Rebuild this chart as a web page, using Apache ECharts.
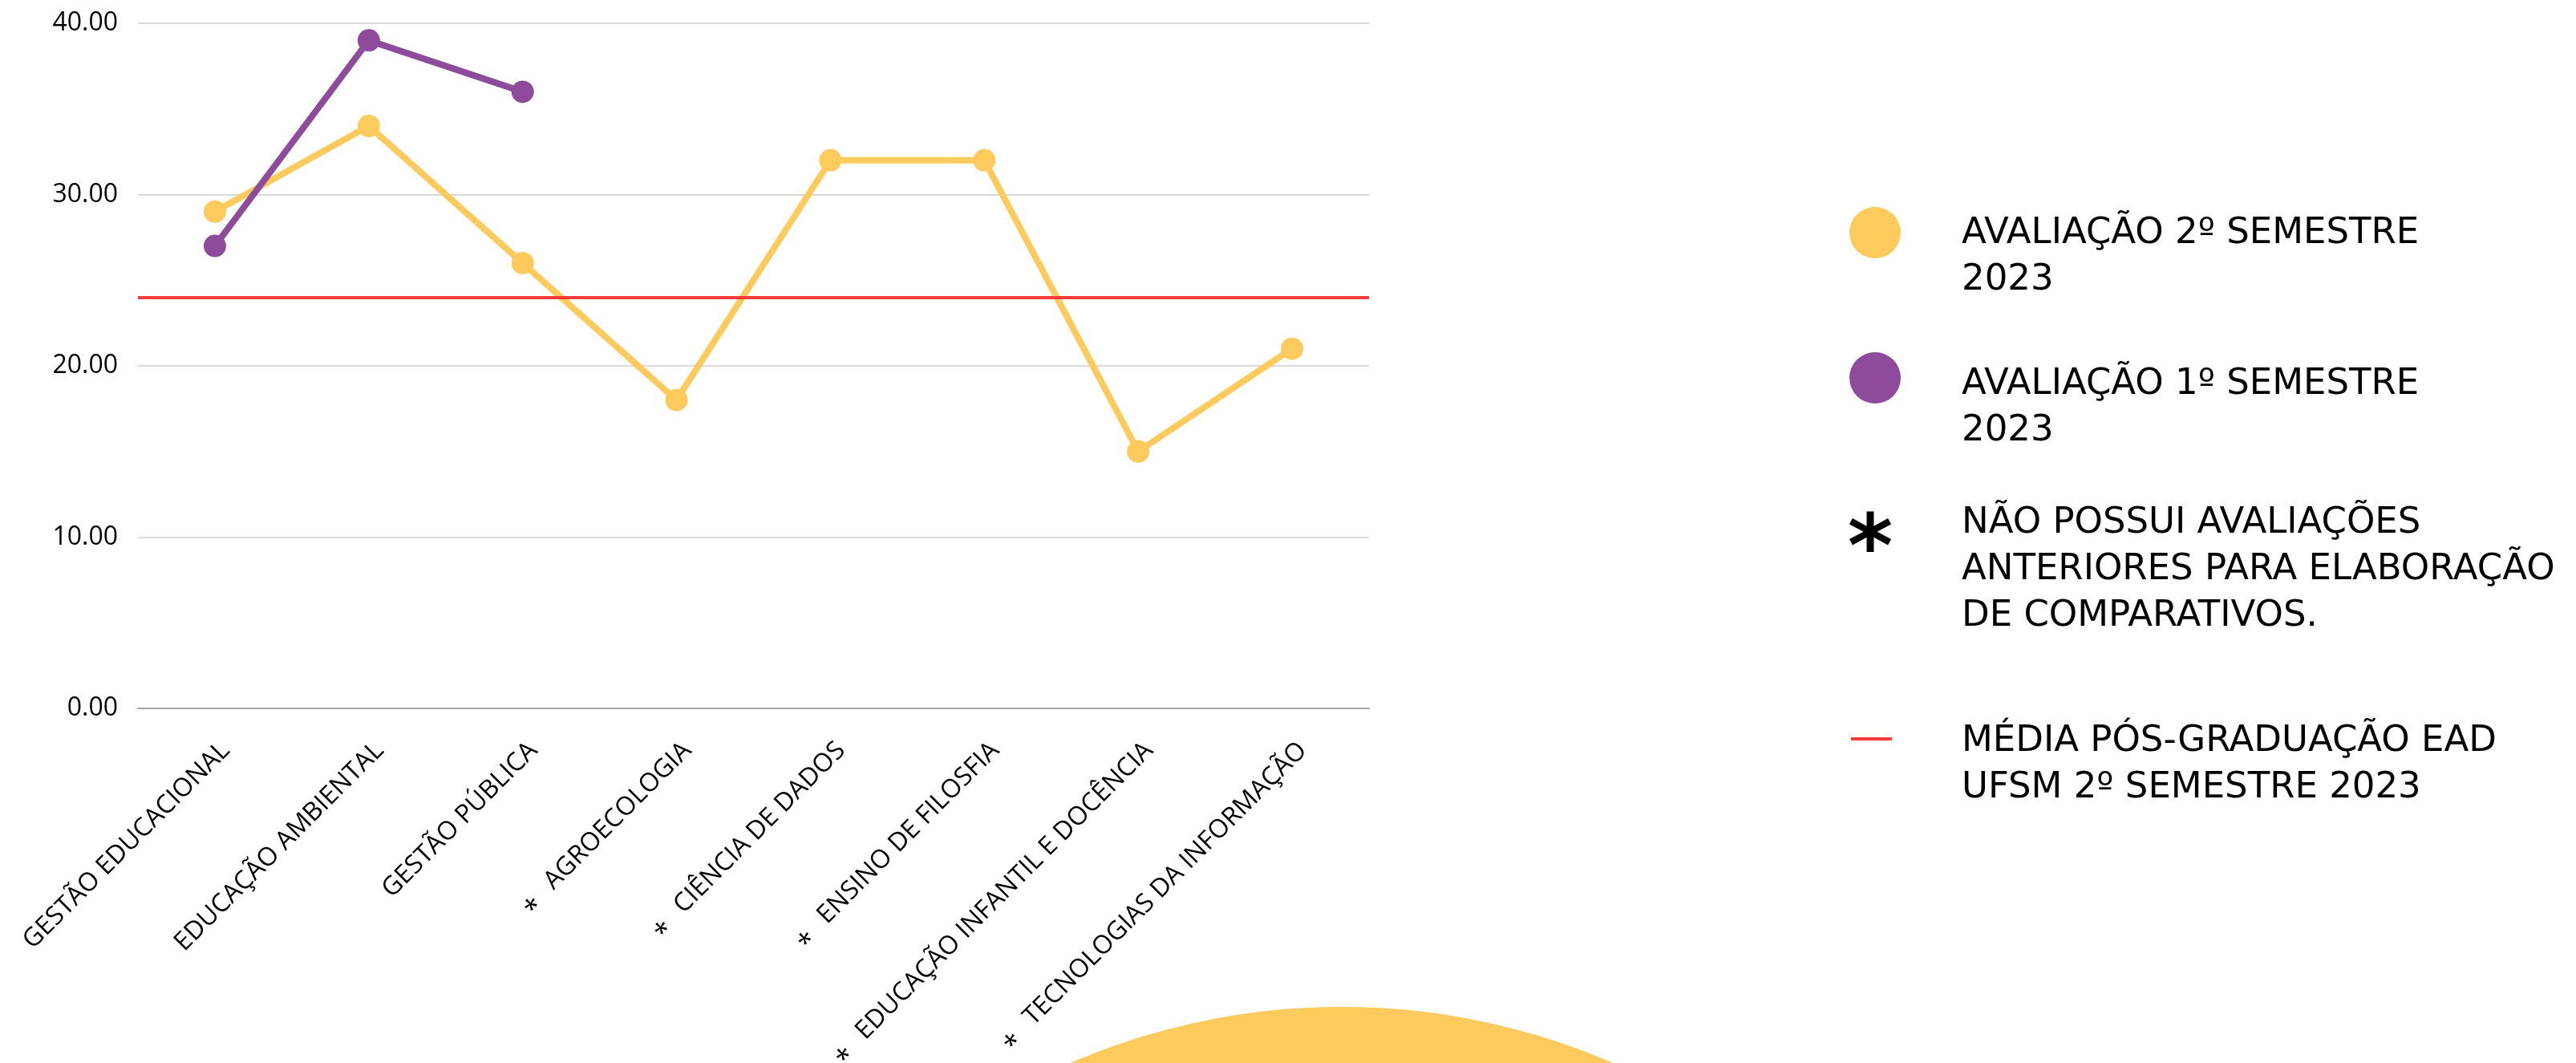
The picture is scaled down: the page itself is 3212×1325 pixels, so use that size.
<!DOCTYPE html>
<html>
<head>
<meta charset="utf-8">
<script src="https://cdn.jsdelivr.net/npm/echarts@6/dist/echarts.min.js"></script>
<style>
  html, body { margin: 0; padding: 0; background: #ffffff; }
  #chart { width: 3212px; height: 1325px; }
</style>
</head>
<body>
<div id="chart"></div>
<script>
// Courses evaluated
const categories = [
  'GESTÃO EDUCACIONAL',
  'EDUCAÇÃO AMBIENTAL',
  'GESTÃO PÚBLICA',
  'AGROECOLOGIA',
  'CIÊNCIA DE DADOS',
  'ENSINO DE FILOSFIA',
  'EDUCAÇÃO INFANTIL E DOCÊNCIA',
  'TECNOLOGIAS DA INFORMAÇÃO'
];
// Courses without earlier evaluations (marked with *)
const noPreviousEvaluation = [false, false, false, true, true, true, true, true];

// Scores per course
const secondSemester2023 = [29, 34, 26, 18, 32, 32, 15, 21];
const firstSemester2023 = [27, 39, 36, null, null, null, null, null];

// Graduate EAD UFSM average, 2nd semester 2023
const averageEad = 24;

// Value axis
const yMin = 0;
const yMax = 40;
const yInterval = 10;

// Legend texts
const legendLabels = [
  'AVALIAÇÃO 2º SEMESTRE\n2023',
  'AVALIAÇÃO 1º SEMESTRE\n2023',
  'NÃO POSSUI AVALIAÇÕES\nANTERIORES PARA ELABORAÇÃO\nDE COMPARATIVOS.',
  'MÉDIA PÓS-GRADUAÇÃO EAD\nUFSM 2º SEMESTRE 2023'
];

const YELLOW = '#FDCA5E';
const PURPLE = '#8E4B9C';
const RED = '#FF3A3A';
const AXIS_FONT = '"Open Sans", "Noto Sans", sans-serif';
const LEGEND_FONT = '"DejaVu Sans", sans-serif';

const chart = echarts.init(document.getElementById('chart'), null, { renderer: 'canvas' });

const legendText = (text, x, y) => ({
  type: 'text',
  x: x,
  y: y,
  silent: true,
  style: {
    text: text,
    fontFamily: LEGEND_FONT,
    fontSize: 45,
    lineHeight: 58,
    fill: '#000000',
    align: 'left',
    verticalAlign: 'top'
  }
});

const option = {
  backgroundColor: '#ffffff',
  animation: false,
  grid: {
    left: 172, right: 1505, top: 29, bottom: 442,
    containLabel: false,
    outerBoundsMode: 'none'
  },
  xAxis: {
    type: 'category',
    data: categories,
    boundaryGap: true,
    axisLine: { show: true, lineStyle: { color: '#A6A6A6', width: 2 } },
    axisTick: { show: false },
    axisLabel: {
      interval: 0,
      rotate: 45,
      margin: 34,
      padding: [38, 0, 0, 0],
      fontFamily: AXIS_FONT,
      fontSize: 32,
      color: '#000000',
      hideOverlap: false,
      formatter: (value, index) => noPreviousEvaluation[index]
        ? '{s|*}{t|  ' + value + '}'
        : '{t|' + value + '}',
      rich: {
        t: {
          fontFamily: AXIS_FONT, fontSize: 32, lineHeight: 32, color: '#000000',
          padding: [0, 0, 8, 0], verticalAlign: 'top'
        },
        s: {
          fontFamily: AXIS_FONT, fontSize: 34, lineHeight: 32, color: '#000000',
          padding: [8, 6, 0, 0], verticalAlign: 'top'
        }
      }
    },
    splitLine: { show: false }
  },
  yAxis: {
    type: 'value',
    min: yMin,
    max: yMax,
    interval: yInterval,
    axisLine: { show: false },
    axisTick: { show: false },
    axisLabel: {
      margin: 25,
      fontFamily: AXIS_FONT,
      fontSize: 32,
      color: '#000000',
      formatter: (v) => v.toFixed(2)
    },
    splitLine: { show: true, lineStyle: { color: '#D9D9D9', width: 2 } }
  },
  series: [
    {
      name: legendLabels[0].replace('\n', ' '),
      type: 'line',
      data: secondSemester2023,
      symbol: 'circle',
      symbolSize: 28,
      lineStyle: { color: YELLOW, width: 8 },
      itemStyle: { color: YELLOW },
      emphasis: { disabled: true },
      z: 2,
      markLine: {
        silent: true,
        symbol: 'none',
        label: { show: false },
        lineStyle: { color: RED, width: 4, type: 'solid' },
        emphasis: { disabled: true },
        data: [{ yAxis: averageEad }],
        z: 5
      }
    },
    {
      name: legendLabels[1].replace('\n', ' '),
      type: 'line',
      data: firstSemester2023,
      symbol: 'circle',
      symbolSize: 28,
      connectNulls: false,
      lineStyle: { color: PURPLE, width: 8 },
      itemStyle: { color: PURPLE },
      emphasis: { disabled: true },
      z: 3
    }
  ],
  graphic: [
    // decorative half circle at the bottom
    {
      type: 'circle', silent: true, z: -10,
      shape: { cx: 1673, cy: 2108, r: 853 },
      style: { fill: YELLOW }
    },
    // legend: 2nd semester
    { type: 'circle', silent: true, shape: { cx: 2338, cy: 290, r: 32 }, style: { fill: YELLOW } },
    legendText(legendLabels[0], 2446, 262),
    // legend: 1st semester
    { type: 'circle', silent: true, shape: { cx: 2338, cy: 471, r: 32 }, style: { fill: PURPLE } },
    legendText(legendLabels[1], 2446, 450),
    // legend: no previous evaluations
    {
      type: 'text', silent: true, x: 2332, y: 690,
      style: {
        text: '*', fontFamily: LEGEND_FONT, fontWeight: 'bold', fontSize: 108,
        fill: '#000000', align: 'center', verticalAlign: 'middle'
      }
    },
    legendText(legendLabels[2], 2446, 623),
    // legend: average line
    {
      type: 'line', silent: true,
      shape: { x1: 2308, y1: 921, x2: 2359, y2: 921 },
      style: { stroke: RED, lineWidth: 4 }
    },
    legendText(legendLabels[3], 2446, 895)
  ]
};

chart.setOption(option);
</script>
</body>
</html>
